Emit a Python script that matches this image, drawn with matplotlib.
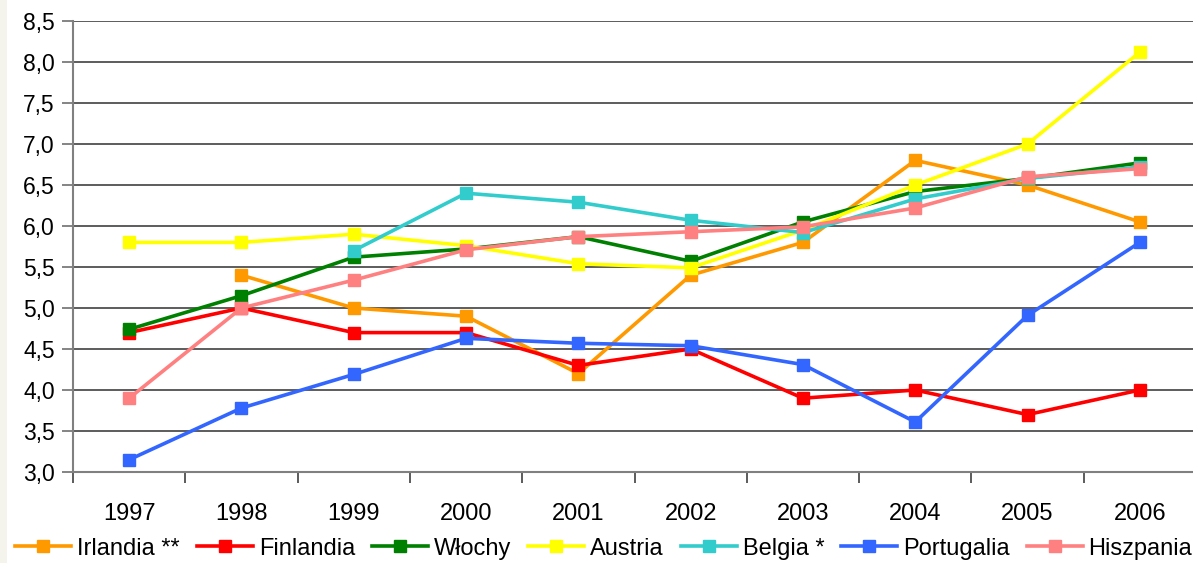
import matplotlib
matplotlib.use("Agg")
import matplotlib.pyplot as plt
import numpy as np

plt.rcParams['font.family'] = ['Liberation Sans', 'DejaVu Sans']

years = ['1997', '1998', '1999', '2000', '2001', '2002', '2003', '2004', '2005', '2006']
nan = np.nan

irlandia   = [nan, 5.4, 5.0, 4.9, 4.2, 5.4, 5.8, 6.8, 6.5, 6.05]
finlandia  = [4.7, 5.0, 4.7, 4.7, 4.3, 4.5, 3.9, 4.0, 3.7, 4.0]
wlochy     = [4.74, 5.15, 5.62, 5.72, 5.87, 5.57, 6.05, 6.42, 6.58, 6.77]
austria    = [5.8, 5.8, 5.9, 5.76, 5.54, 5.49, 5.95, 6.5, 7.0, 8.12]
belgia     = [nan, nan, 5.7, 6.4, 6.29, 6.07, 5.92, 6.33, 6.58, 6.72]
portugalia = [3.15, 3.78, 4.19, 4.63, 4.57, 4.54, 4.31, 3.61, 4.91, 5.8]
hiszpania  = [3.9, 5.0, 5.34, 5.71, 5.87, 5.93, 5.99, 6.22, 6.6, 6.7]

series = [
    ('Irlandia **', irlandia, '#FF9900'),
    ('Finlandia', finlandia, '#FF0000'),
    ('Włochy', wlochy, '#008000'),
    ('Austria', austria, '#FFFF00'),
    ('Belgia *', belgia, '#33CCCC'),
    ('Portugalia', portugalia, '#3366FF'),
    ('Hiszpania', hiszpania, '#FF8080'),
]

fig = plt.figure(figsize=(11.93, 5.63), dpi=100)
fig.patch.set_facecolor('white')
# thin beige strip at the left edge
fig.patches.append(plt.Rectangle((0, 0), 7 / 1193, 1, transform=fig.transFigure,
                                 facecolor='#F4F4EC', edgecolor='none', zorder=0))

ax = fig.add_axes([73 / 1193, 1 - 472 / 563, 1123 / 1193, 451 / 563])
x = np.arange(len(years))

for name, vals, col in series:
    ax.plot(x, vals, color=col, lw=2.6, marker='s', markersize=8.5,
            markerfacecolor=col, markeredgecolor=col, label=name, zorder=3)

ax.set_xlim(-0.5, len(years) - 0.5)
ax.set_ylim(3.0, 8.5)
yt = np.arange(3.0, 8.51, 0.5)
ax.set_yticks(yt)
ax.set_yticklabels([f'{v:.1f}'.replace('.', ',') for v in yt])
for v in yt[1:]:
    ax.axhline(v, color='#303030', lw=1.1, zorder=1)

ax.set_xticks(x)
ax.set_xticklabels(years)
ax.set_xticks(np.arange(-0.5, len(years), 1.0), minor=True)
ax.tick_params(axis='x', which='major', length=0, pad=22, labelsize=17, colors='black')
ax.tick_params(axis='x', which='minor', length=8, width=1.2, color='#404040', direction='out')
ax.tick_params(axis='y', length=8, width=1.2, color='#707070', labelsize=16.5, pad=5)

for s in ['top', 'right']:
    ax.spines[s].set_visible(False)
ax.spines['left'].set_color('#808080')
ax.spines['left'].set_linewidth(1.5)
ax.spines['bottom'].set_color('#808080')
ax.spines['bottom'].set_linewidth(1.5)

handles, labels = ax.get_legend_handles_labels()
fig.legend(handles, labels, loc='lower left', bbox_to_anchor=(6 / 1193, -0.011),
           ncol=7, frameon=False, fontsize=17, handlelength=2.37,
           handletextpad=0.25, columnspacing=0.72, borderaxespad=0.0,
           markerscale=1.0)

fig.savefig('out.png', dpi=100, facecolor='white')
